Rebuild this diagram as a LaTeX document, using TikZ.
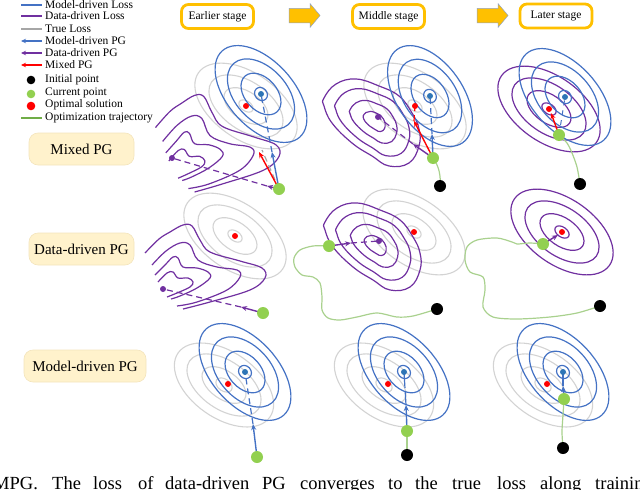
\documentclass[tikz,border=0pt]{standalone}
\usepackage{fontspec}
\setmainfont{Liberation Serif}
\usetikzlibrary{arrows.meta,shapes.arrows,shapes.geometric}
\definecolor{mblue}{HTML}{4472C4}
\definecolor{mbluedot}{HTML}{2E75B6}
\definecolor{dpurple}{HTML}{7030A0}
\definecolor{tgray}{HTML}{D3D3D3}
\definecolor{lgray}{HTML}{A6A6A6}
\definecolor{cgreen}{HTML}{92D050}
\definecolor{trgreen}{HTML}{A9D18E}
\definecolor{lgreen}{HTML}{70AD47}
\definecolor{stageor}{HTML}{FFC000}
\definecolor{rowfill}{HTML}{FFF2CC}
\definecolor{rowdraw}{HTML}{F3E4BC}
\definecolor{arrowedge}{HTML}{8FA3C8}
\newcommand\ringset[4]{\foreach \ra/\rb in {#4}{\draw[#3, rotate around={#2:(#1)}] (#1) ellipse [x radius=\ra pt, y radius=\rb pt];}}
\newcommand\wavyset[2]{%
\begin{scope}[shift={(#1)},#2]
\draw[datal] plot[smooth,tension=0.6] coordinates {(-18,-36) (-4,-50) (7,-57) (20,-64) (29,-63) (37,-49) (47,-37) (77,-28) (99,-21) (102,-11) (87,1) (47,13) (20,20)};
\draw[datal] plot[smooth,tension=0.6] coordinates {(-11,-24) (3,-38) (17,-46) (27,-44) (35,-29) (54,-22) (74,-19) (77,-12) (64,1) (34,13) (14,17)};
\draw[datal] plot[smooth,tension=0.6] coordinates {(-8,-14) (2,-24) (10,-32) (15,-31) (20,-22) (34,-21) (45,-17) (47,-11) (34,-1) (17,7) (8,10)};
\draw[datal] plot[smooth,tension=0.6] coordinates {(-5,-7) (4,-16) (10,-17) (15,-11) (25,-11) (30,-7) (27,-2) (14,4) (4,8)};
\end{scope}}
\newcommand\loopset[1]{%
\begin{scope}[shift={(#1)}]
\foreach \sc in {1,0.77,0.49,0.23}{%
\begin{scope}[shift={(-3,4)},scale=\sc,shift={(3,-4)}]
\draw[datal] plot[smooth cycle,tension=0.7] coordinates {(-54,-19) (-42,-33) (-22,-38) (1,-31) (21,-21) (34,-4) (41,12) (41,29) (31,46) (11,49) (-6,39) (-26,26) (-46,6) (-54,-11)};
\end{scope}}
\end{scope}}
\begin{document}
\begin{tikzpicture}[x=1pt,y=-1pt,
  truel/.style={draw=tgray, line width=1.1pt},
  modell/.style={draw=mblue, line width=1.2pt},
  datal/.style={draw=dpurple, line width=1.2pt},
  traj/.style={draw=trgreen, line width=1.2pt},
  pg/.style={line width=1.4pt, -{Stealth[length=6pt,width=5pt]}},
  pgdash/.style={line width=1.2pt, dash pattern=on 6pt off 4pt},
  legline/.style={line width=1.2pt},
  legtxt/.style={anchor=west, inner sep=0pt, font=\fontsize{11.5}{13}\selectfont},
  captxt/.style={anchor=base west, inner sep=0pt, font=\fontsize{18.5}{20}\selectfont},
  stagebox/.style={draw=stageor, line width=2.8pt, rounded corners=7pt, fill=white, minimum width=72pt, minimum height=24pt, inner sep=0pt, font=\fontsize{11.5}{13}\selectfont},
  stagearrow/.style={single arrow, fill=stageor, draw=arrowedge, line width=0.5pt, minimum height=31pt, minimum width=23pt, single arrow head extend=4.5pt, single arrow tip angle=100, inner xsep=0pt, inner ysep=7pt},
  rowbox/.style={fill=rowfill, draw=rowdraw, line width=0.6pt, rounded corners=9pt, minimum height=32pt, inner sep=0pt, font=\fontsize{15}{17}\selectfont}
]
\path[use as bounding box] (0,0) rectangle (640,490);
\clip (0,0) rectangle (640,490);

% ---------- legend ----------
\coordinate (l1a) at (21,5);   \coordinate (l1b) at (42,5);
\coordinate (l2a) at (21,16);  \coordinate (l2b) at (42,16);
\coordinate (l3a) at (21,29);  \coordinate (l3b) at (42,29);
\coordinate (l4a) at (21,41);  \coordinate (l4b) at (42,41);
\coordinate (l5a) at (21,53);  \coordinate (l5b) at (42,53);
\coordinate (l6a) at (21,65);  \coordinate (l6b) at (42,65);
\coordinate (l10a) at (21,118); \coordinate (l10b) at (42,118);
\draw[legline, mblue] (l1a) -- (l1b);
\draw[legline, dpurple] (l2a) -- (l2b);
\draw[legline, lgray] (l3a) -- (l3b);
\draw[legline, mblue, -{Stealth[length=5pt,width=4.5pt]}] (l4b) -- (l4a);
\draw[legline, dpurple, -{Stealth[length=5pt,width=4.5pt]}] (l5b) -- (l5a);
\draw[legline, red, -{Stealth[length=5pt,width=4.5pt]}] (l6b) -- (l6a);
\draw[legline, lgreen] (l10a) -- (l10b);
\fill[black] (31,80) circle (4.3pt);
\fill[cgreen] (31,94) circle (4.3pt);
\fill[red] (31,106) circle (4.3pt);
\node[legtxt] (t1) at (45,5) {Model-driven Loss};
\node[legtxt] (t2) at (45,16) {Data-driven Loss};
\node[legtxt] (t3) at (45,29) {True Loss};
\node[legtxt] (t4) at (45,41) {Model-driven PG};
\node[legtxt] (t5) at (45,53) {Data-driven PG};
\node[legtxt] (t6) at (45,65) {Mixed PG};
\node[legtxt] (t7) at (45,80) {Initial point};
\node[legtxt] (t8) at (45,93) {Current point};
\node[legtxt] (t9) at (45,105) {Optimal solution};
\node[legtxt] (t10) at (45,118) {Optimization trajectory};

% ---------- stages ----------
\node[stagebox] (s1) at (217.5,16.5) {Earlier stage};
\node[stagebox] (s2) at (388.5,16.5) {Middle stage};
\node[stagebox] (s3) at (556,16) {Later stage};
\node[stagearrow] (a1) at (301.5,15.5) {};
\node[stagearrow] (a2) at (489.5,15.5) {};

% ---------- row labels ----------
\node[rowbox, minimum width=105pt] (r1) at (81.5,149) {Mixed PG};
\node[rowbox, minimum width=105pt] (r2) at (81.5,249) {Data-driven PG};
\node[rowbox, minimum width=122pt] (r3) at (85,366) {Model-driven PG};

% ---------- Panel A : Mixed, earlier ----------
\coordinate (gA) at (246,106);
\coordinate (bA) at (261,94);
\coordinate (pA) at (172,158);
\coordinate (cA) at (279,189);
\coordinate (rtA) at (259,152);
\coordinate (btA) at (272,152);
\coordinate (ttA) at (262,150);
\coordinate (ptA) at (267,186);
\ringset{gA}{-35}{truel}{8/5,25/14,42/24,58/33}
\wavyset{pA}{shift={(2,11)},yscale=1.15,xscale=1.03}
\ringset{bA}{-48}{modell}{7/6,24/16,41/26,58/33}
\draw[pgdash, lgray] (cA) -- (ttA);
\draw[pgdash, mblue] (btA) -- (bA);
\draw[pg, mblue] (cA) -- (btA);
\draw[pgdash, dpurple] (ptA) -- (pA);
\draw[pg, dpurple] (cA) -- (ptA);
\draw[pg, red] (cA) -- (rtA);
\fill[red] (gA) circle (3pt);
\fill[mbluedot] (bA) circle (3pt);
\fill[dpurple] (pA) circle (3pt);
\fill[cgreen] (cA) circle (6pt);

% ---------- Panel B : Mixed, middle ----------
\coordinate (gB) at (415,106);
\coordinate (bB) at (430,96);
\coordinate (pB) at (378,117);
\coordinate (cB) at (433,158);
\coordinate (kB) at (440,186);
\coordinate (rtB) at (414,121);
\coordinate (btB) at (432,134);
\coordinate (ptB) at (413,144);
\ringset{gB}{-35}{truel}{8/5,25/14,42/24,58/33}
\loopset{pB}
\ringset{bB}{-55}{modell}{7/6,24/16,41/26,57/33}
\draw[traj] (cB) .. controls (439,166) and (441,176) .. (kB);
\draw[pgdash, red] (rtB) -- (gB);
\draw[pgdash, mblue] (btB) -- (bB);
\draw[pgdash, dpurple] (ptB) -- (pB);
\draw[pg, mblue] (cB) -- (btB);
\draw[pg, dpurple] (cB) -- (ptB);
\draw[pg, red] (cB) -- (rtB);
\fill[red] (gB) circle (3pt);
\fill[mbluedot] (bB) circle (3pt);
\fill[dpurple] (pB) circle (3pt);
\fill[cgreen] (cB) circle (6pt);
\fill[black] (kB) circle (6pt);

% ---------- Panel C : Mixed, later ----------
\coordinate (gC) at (549,109);
\coordinate (bC) at (565,97);
\coordinate (cC) at (559,135);
\coordinate (kC) at (580,184);
\coordinate (rtC) at (551,113);
\ringset{gC}{-35}{datal}{8/5,25/14,42/24,58/33}
\ringset{bC}{-48}{modell}{7/6,24/16,41/26,58/33}
\draw[traj] plot[smooth] coordinates {(cC) (567,143) (572,153) (577,167) (kC)};
\draw[line width=1pt, mblue, dash pattern=on 5pt off 5pt] (cC) -- (bC);
\draw[pg, red] (cC) -- (rtC);
\fill[red] (gC) circle (3pt);
\fill[mbluedot] (bC) circle (3pt);
\fill[cgreen] (cC) circle (6pt);
\fill[black] (kC) circle (6pt);

% ---------- Panel D : Data, earlier ----------
\coordinate (gD) at (235,236);
\coordinate (pD) at (163,289);
\coordinate (cD) at (263,313);
\coordinate (ptD) at (241,307);
\ringset{gD}{-35}{truel}{8/5,25/14,42/24,58/33}
\wavyset{pD}{}
\draw[pgdash, dpurple] (ptD) -- (pD);
\draw[pg, dpurple] (cD) -- (ptD);
\fill[red] (gD) circle (3pt);
\fill[dpurple] (pD) circle (3pt);
\fill[cgreen] (cD) circle (6pt);

% ---------- Panel E : Data, middle ----------
\coordinate (gE) at (414,232);
\coordinate (pE) at (379,241);
\coordinate (cE) at (329,246);
\coordinate (kE) at (437,309);
\coordinate (ptE) at (351,243);
\ringset{gE}{-35}{truel}{8/5,25/14,42/24,58/33}
\loopset{pE}
\draw[traj] plot[smooth] coordinates {(cE) (313,246) (300,250) (294,258) (295,267) (302,275) (313,277) (320,283) (322,297) (322,310) (328,318) (340,320) (357,317) (377,313) (397,317) (413,316) (kE)};
\draw[pgdash, dpurple] (ptE) -- (pE);
\draw[pg, dpurple] (cE) -- (ptE);
\fill[red] (gE) circle (3pt);
\fill[dpurple] (pE) circle (3pt);
\fill[cgreen] (cE) circle (6pt);
\fill[black] (kE) circle (6pt);

% ---------- Panel F : Data, later ----------
\coordinate (gF) at (562,232);
\coordinate (cF) at (543,244);
\coordinate (kF) at (600,306);
\coordinate (ptF) at (558,235);
\ringset{gF}{-35}{datal}{8/5,25/14,42/24,58/33}
\draw[traj] plot[smooth] coordinates {(cF) (530,243) (517,244) (512,242) (497,238) (477,240) (467,247) (465,260) (470,272) (483,277) (485,290) (483,307) (493,317) (517,319) (550,317) (577,313) (kF)};
\draw[pg, dpurple] (cF) -- (ptF);
\fill[red] (gF) circle (3pt);
\fill[cgreen] (cF) circle (6pt);
\fill[black] (kF) circle (6pt);

% ---------- Panel G : Model, earlier ----------
\coordinate (gG) at (228,384);
\coordinate (gcG) at (224,385);
\coordinate (bG) at (245,372);
\coordinate (cG) at (257,457);
\coordinate (btG) at (253,424);
\ringset{gcG}{-35}{truel}{9/6,25/14,42/24,56/33}
\ringset{bG}{-48}{modell}{7/6,24/16,41/26,58/33}
\draw[pgdash, mblue] (btG) -- (bG);
\draw[pg, mblue] (cG) -- (btG);
\fill[red] (gG) circle (3pt);
\fill[mbluedot] (bG) circle (3pt);
\fill[cgreen] (cG) circle (6pt);

% ---------- Panel H : Model, middle ----------
\coordinate (gH) at (388,384);
\coordinate (gcH) at (384,385);
\coordinate (bH) at (404,372);
\coordinate (cH) at (407,431);
\coordinate (kH) at (407,455);
\coordinate (btH) at (406,405);
\ringset{gcH}{-35}{truel}{9/6,25/14,42/24,56/33}
\ringset{bH}{-48}{modell}{7/6,24/16,41/26,58/33}
\draw[traj] (cH) -- (kH);
\draw[line width=1.2pt, mblue, dash pattern=on 14pt off 3pt] (btH) -- (bH);
\draw[pg, mblue] (cH) -- (btH);
\fill[red] (gH) circle (3pt);
\fill[mbluedot] (bH) circle (3pt);
\fill[cgreen] (cH) circle (6pt);
\fill[black] (kH) circle (6pt);

% ---------- Panel I : Model, later ----------
\coordinate (gI) at (547,384);
\coordinate (gcI) at (543,385);
\coordinate (bI) at (563,372);
\coordinate (cI) at (564,399);
\coordinate (kI) at (563,448);
\coordinate (btI) at (563,386);
\ringset{gcI}{-35}{truel}{9/6,25/14,42/24,56/33}
\ringset{bI}{-48}{modell}{7/6,24/16,41/26,58/33}
\draw[traj] plot[smooth] coordinates {(cI) (563,415) (562,432) (kI)};
\draw[line width=1.2pt, mblue] (btI) -- (bI);
\draw[pg, mblue] (cI) -- (btI);
\fill[red] (gI) circle (3pt);
\fill[mbluedot] (bI) circle (3pt);
\fill[cgreen] (cI) circle (6pt);
\fill[black] (kI) circle (6pt);

% ---------- caption (cut off at the lower edge, as in the reference) ----------
\foreach \w/\xx [count=\i] in {MPG./-7, The/52, loss/93, of/138, data-driven/165, PG/262, converges/300, to/388, the/415, true/452, loss/497, along/540, training/595}
  \node[captxt] (cw\i) at (\xx,489) {\w};
\end{tikzpicture}
\end{document}
